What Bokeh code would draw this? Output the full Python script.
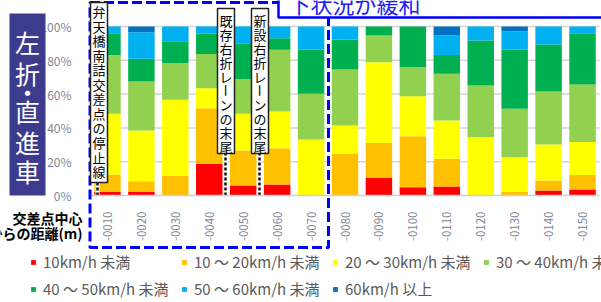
from bokeh.plotting import figure
from bokeh.models import (ColumnDataSource, Range1d, FixedTicker, LinearAxis,
                          PrintfTickFormatter, BoxAnnotation, Label, Legend, LegendItem)
from bokeh.core.properties import value
from bokeh.embed import file_html
from bokeh.resources import INLINE

# ---------------- data ----------------
distances = ["-0010", "-0020", "-0030", "-0040", "-0050", "-0060", "-0070", "-0080",
             "-0090", "-0100", "-0110", "-0120", "-0130", "-0140", "-0150"]
under_10 = [2.0, 2.0, 0.0, 18.7, 5.9, 6.5, 0.0, 0.0, 10.3, 4.9, 5.3, 0.0, 0.0, 3.0, 3.6]
s10_20 = [10.4, 6.5, 11.8, 33.0, 20.7, 21.5, 0.0, 24.7, 20.7, 30.2, 16.4, 0.0, 2.0, 5.9, 8.6]
s20_30 = [35.9, 30.0, 44.8, 11.8, 21.7, 21.7, 33.1, 16.7, 47.9, 23.7, 22.7, 34.5, 20.7, 21.3, 19.4]
s30_40 = [34.9, 29.0, 21.7, 20.3, 20.7, 36.5, 27.1, 33.2, 15.8, 17.1, 27.6, 30.6, 28.6, 31.3, 34.1]
s40_50 = [12.8, 13.4, 13.0, 11.9, 21.1, 6.9, 26.0, 17.7, 5.3, 24.1, 11.2, 26.6, 34.9, 27.8, 30.3]
s50_60 = [4.0, 15.7, 8.7, 4.3, 9.9, 6.9, 13.8, 7.7, 0.0, 0.0, 11.5, 8.3, 11.0, 10.7, 4.0]
over_60 = [0.0, 3.4, 0.0, 0.0, 0.0, 0.0, 0.0, 0.0, 0.0, 0.0, 5.3, 0.0, 2.8, 0.0, 0.0]

series_keys = ["under_10", "s10_20", "s20_30", "s30_40", "s40_50", "s50_60", "over_60"]
series_labels = ["10km/h 未満", "10 ～ 20km/h 未満", "20 ～ 30km/h 未満", "30 ～ 40km/h 未満",
                 "40 ～ 50km/h 未満", "50 ～ 60km/h 未満", "60km/h 以上"]
series_colors = ["#FF0000", "#FFC000", "#FFFF00", "#92D050", "#00B050", "#00B0F0", "#0070C0"]
y_ticks = [0, 20, 40, 60, 80, 100]

JP = "Noto Sans CJK JP"
W, H = 601, 302

# category slots: bar i is centred at i + 0.5
x_pos = [i + 0.5 for i in range(len(distances))]
n_cat = len(distances)

source = ColumnDataSource(dict(x=x_pos, under_10=under_10, s10_20=s10_20,
                               s20_30=s20_30, s30_40=s30_40, s40_50=s40_50,
                               s50_60=s50_60, over_60=over_60))

# frame covers the whole canvas; plot area is x 90..599, y 26 (100%)..195 (0%)
px_x = 509 / n_cat
px_y = 1.69
p = figure(x_range=Range1d(-90 / px_x, (W - 90) / px_x),
           y_range=Range1d(-(H - 195) / px_y, 195 / px_y),
           width=W, height=H, output_backend="svg", toolbar_location=None,
           x_axis_location=None, y_axis_location=None,
           min_border=0, min_border_left=0, min_border_right=0,
           min_border_top=0, min_border_bottom=0,
           outline_line_color=None, background_fill_color="white")
p.xgrid.visible = False
p.ygrid.visible = False

# horizontal grid lines
p.segment(x0=[0] * (len(y_ticks) - 1), x1=[n_cat] * (len(y_ticks) - 1),
          y0=y_ticks[1:], y1=y_ticks[1:], line_color="#d4d4d4", line_width=1.5)

renderers = p.vbar_stack(series_keys, x="x", width=0.78, source=source,
                         color=series_colors, line_color=None)

# axes drawn at fixed locations inside the frame
yaxis = LinearAxis(ticker=FixedTicker(ticks=y_ticks), formatter=PrintfTickFormatter(format="%d%%"),
                   fixed_location=0, axis_line_color=None, major_tick_line_color=None,
                   minor_tick_line_color=None, major_label_standoff=13,
                   major_label_text_font=JP, major_label_text_font_size="12px",
                   major_label_text_color="#7f8796")
p.add_layout(yaxis, "left")

xaxis = LinearAxis(ticker=FixedTicker(ticks=x_pos),
                   major_label_overrides={x: lab for x, lab in zip(x_pos, distances)},
                   fixed_location=0, bounds=(0, n_cat), axis_line_color="#d0d0d0",
                   axis_line_width=1.5, major_tick_line_color=None, minor_tick_line_color=None,
                   major_label_orientation=1.5707963, major_label_standoff=10,
                   major_label_text_font=JP, major_label_text_font_size="11.5px",
                   major_label_text_color="#7f8796")
p.add_layout(xaxis, "below")


def sy(yr):
    return H - yr


def sbox(l, r, t, b, **kw):
    return BoxAnnotation(left=l, right=r, top=sy(t), bottom=sy(b),
                         left_units="screen", right_units="screen",
                         top_units="screen", bottom_units="screen", **kw)


def slabel(x, y, text, **kw):
    return Label(x=x, y=sy(y), x_units="screen", y_units="screen", text=text,
                 text_font=JP, **kw)


# blue dashed frame around the first section
p.add_layout(sbox(89.5, 328, 2, 247, fill_alpha=0, line_color="#0000FF", line_alpha=1,
                  line_width=3, line_dash="10 4"))

# title box at top right
p.add_layout(sbox(278, 720, -40, 17, fill_color="white", fill_alpha=1,
                  line_color="#0000FF", line_alpha=1, line_width=2.5))
p.add_layout(slabel(288, 2, "下状況が緩和", text_font_size="22px", text_color="#2020F0",
                    text_baseline="middle"))

# leader lines from the annotation boxes to the axis
lead_x = [(97 - 90) / px_x, (225 - 90) / px_x, (259 - 90) / px_x]
lead_top = [(195 - 182) / px_y, (195 - 153) / px_y, (195 - 153) / px_y]
p.segment(x0=lead_x, y0=[0, 0, 0], x1=lead_x, y1=lead_top, line_color="white", line_width=4)
p.segment(x0=lead_x, y0=[0, 0, 0], x1=lead_x, y1=lead_top, line_color="#111111",
          line_width=2.5, line_dash="3 2")

# vertical annotation boxes
boxes = [
    (90, 107, 2, 182, "弁天橋南詰交差点の停止線", 11.0, 14.55),
    (217, 234, 8, 153, "既存右折レーンの末尾", 19.5, 14.1),
    (251, 268, 8, 153, "新設右折レーンの末尾", 19.5, 14.1),
]
for l, r, t, b, txt, c0, step in boxes:
    p.add_layout(sbox(l, r, t, b, fill_color="white", fill_alpha=1, line_color="#222222",
                      line_alpha=1, line_width=1.5))
    for i, ch in enumerate(txt):
        p.add_layout(slabel((l + r) / 2, c0 + i * step, ch, text_font_size="13px",
                            text_color="black", text_align="center", text_baseline="middle",
                            angle=(-1.5707963 if ch == "ー" else 0)))

# left category box
p.add_layout(sbox(9, 45, 13, 195, fill_color="#3D3B8E", fill_alpha=1, line_color=None))
for ch, cy in zip(["左", "折", "・", "直", "進", "車"], [41, 72, 91, 110, 141, 170]):
    p.add_layout(slabel(27, cy, ch, text_font_size="25px", text_color="white",
                        text_align="center", text_baseline="middle"))

# x axis title
for txt, cy in [("交差点中心", 217.5), ("からの距離(m)", 232.5)]:
    p.add_layout(slabel(82, cy, txt, text_font_size="14px", text_font_style="bold",
                        text_color="black", text_align="right", text_baseline="middle"))

# legends
leg_x = [30, 181, 332, 483, 30, 181, 332]
leg_y = [263.5, 263.5, 263.5, 263.5, 290.5, 290.5, 290.5]
for rend, lab, lx, ly in zip(renderers, series_labels, leg_x, leg_y):
    leg = Legend(items=[LegendItem(label=value(lab), renderers=[rend])],
                 location=(lx, sy(ly) - 8.5), orientation="horizontal",
                 glyph_width=6, glyph_height=6, label_standoff=7, label_height=16,
                 padding=0, margin=0, spacing=0, border_line_color=None,
                 background_fill_alpha=0, label_text_font=JP,
                 label_text_font_size="15px", label_text_color="#595959")
    p.add_layout(leg)

open("out.html", "w").write(file_html(p, INLINE))
